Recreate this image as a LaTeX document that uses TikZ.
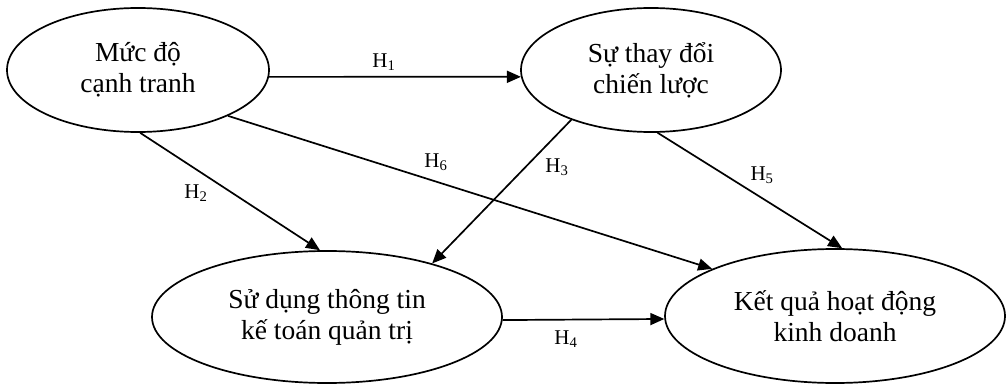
\documentclass[tikz,border=0pt]{standalone}
\usepackage{fontspec}
\setmainfont{Liberation Serif}
\usetikzlibrary{shapes.geometric,arrows.meta}
\tikzset{
  construct/.style={draw=black, line width=1.7pt, ellipse, inner sep=0pt, align=center,
    font=\fontsize{27.5}{31}\selectfont},
  path/.style={line width=1.7pt, -{Triangle[length=14pt,width=12pt]}},
  hyp/.style={font=\fontsize{21}{24}\selectfont, inner sep=0pt}
}
\begin{document}
\begin{tikzpicture}[x=1pt,y=-1pt]
\useasboundingbox (0,0) rectangle (1007,385);

\node[construct, minimum width=262pt, minimum height=124pt] (comp) at (138,70)
  {Mức độ\\cạnh tranh};
\node[construct, minimum width=260pt, minimum height=124pt] (strat) at (651,70)
  {Sự thay đổi\\chiến lược};
\node[construct, minimum width=350pt, minimum height=132pt] (mai) at (327,317)
  {Sử dụng thông tin\\kế toán quản trị};
\node[construct, minimum width=340pt, minimum height=134pt] (perf) at (835,316)
  {Kết quả hoạt động\\kinh doanh};

\draw[path] (comp.-3) -- (strat.183);
\draw[path] (comp.-88) -- (mai.96);
\draw[path] (comp.-27) -- (perf.159);
\draw[path] (strat.212) -- (mai.27);
\draw[path] (strat.-84) -- (perf.84);
\draw[path] (mai.-1) -- (perf.181);

\node[hyp] (h1) at (384,62) {H\textsubscript{1}};
\node[hyp] (h2) at (196,193) {H\textsubscript{2}};
\node[hyp] (h3) at (557,167) {H\textsubscript{3}};
\node[hyp] (h4) at (566,339) {H\textsubscript{4}};
\node[hyp] (h5) at (762,175) {H\textsubscript{5}};
\node[hyp] (h6) at (436,162) {H\textsubscript{6}};
\end{tikzpicture}
\end{document}
